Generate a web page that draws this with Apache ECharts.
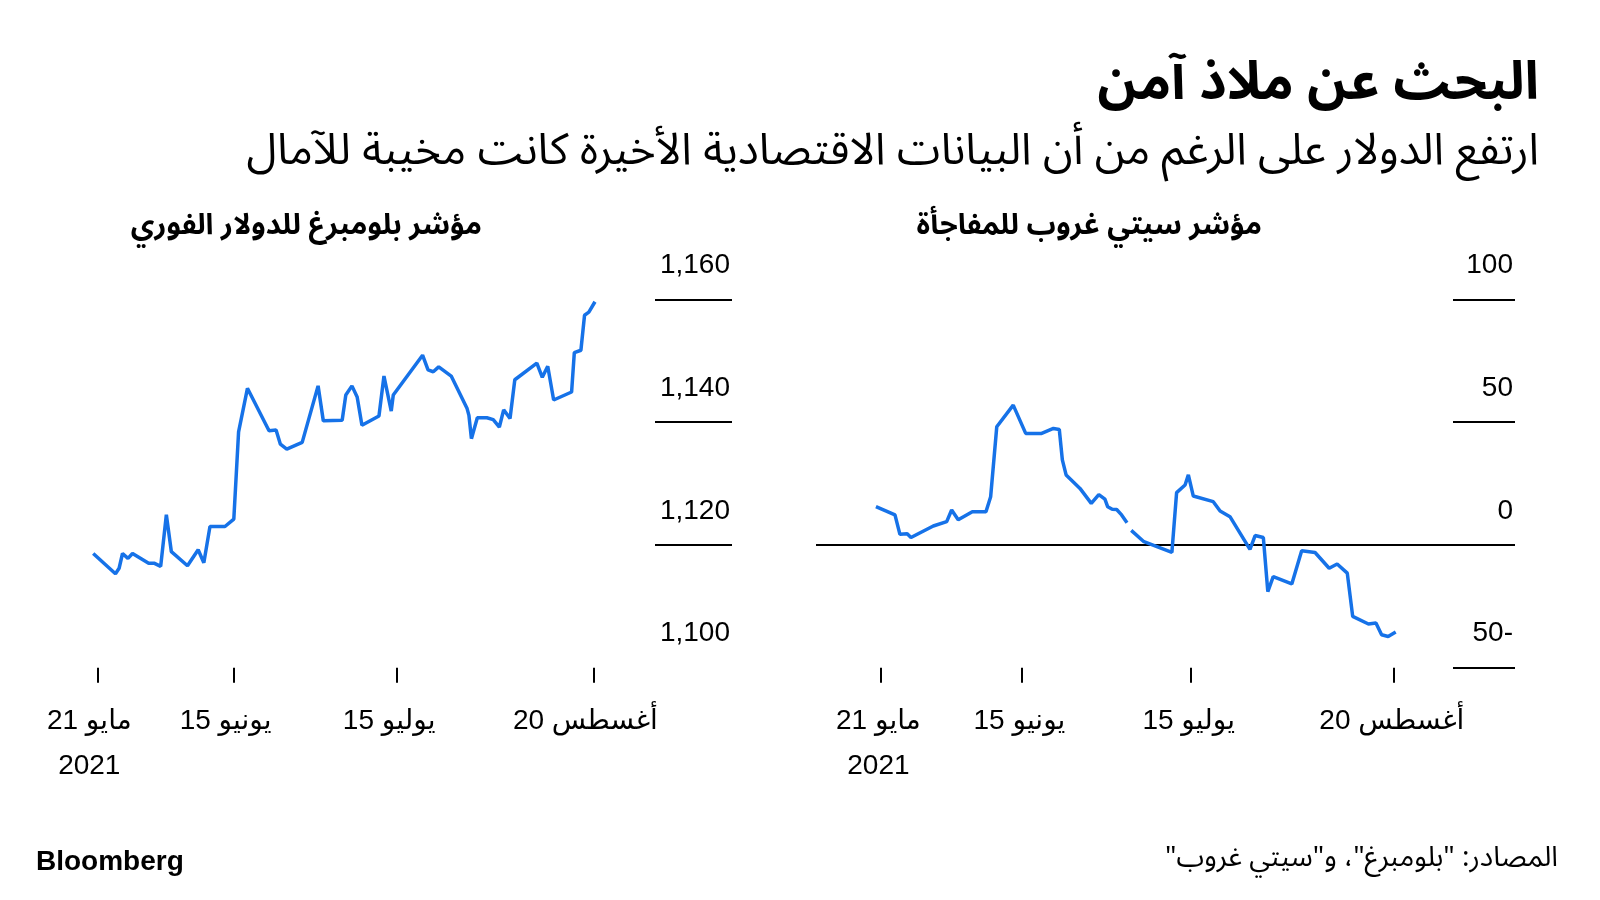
<!DOCTYPE html>
<html lang="ar">
<head>
<meta charset="utf-8">
<script src="https://cdn.jsdelivr.net/npm/echarts@6/dist/echarts.min.js"></script>
<style>
  html, body { margin: 0; padding: 0; background: #fff; }
  #chart { width: 1600px; height: 900px; direction: rtl; }
</style>
</head>
<body>
<div id="chart"></div>
<script>
// ---------- DATA ----------
const leftDates = [
  '2021-05-20 06:00','2021-05-24 08:00','2021-05-25 00:00','2021-05-25 15:00','2021-05-26 15:00',
  '2021-05-27 11:00','2021-05-30 10:00','2021-05-31 12:00','2021-06-01 15:00','2021-06-02 16:00',
  '2021-06-03 14:00','2021-06-06 13:00','2021-06-08 12:00','2021-06-09 13:00','2021-06-10 16:00',
  '2021-06-13 10:00','2021-06-15 01:00','2021-06-15 22:00','2021-06-17 13:00','2021-06-21 12:00',
  '2021-06-22 19:00','2021-06-23 14:00','2021-06-24 18:00','2021-06-27 14:00','2021-06-30 12:00',
  '2021-07-01 11:00','2021-07-04 22:00','2021-07-05 14:00','2021-07-06 17:00','2021-07-07 16:00',
  '2021-07-08 13:00','2021-07-11 16:00','2021-07-12 14:00','2021-07-13 22:00','2021-07-14 07:00',
  '2021-07-19 16:00','2021-07-20 16:00','2021-07-21 15:00','2021-07-22 15:00','2021-07-24 22:00',
  '2021-07-27 20:00','2021-07-28 04:00','2021-07-28 15:00','2021-07-29 17:00','2021-07-31 11:00',
  '2021-08-01 15:00','2021-08-02 18:00','2021-08-03 13:00','2021-08-04 17:00','2021-08-05 14:00',
  '2021-08-09 15:00','2021-08-10 15:00','2021-08-11 15:00','2021-08-12 17:00','2021-08-16 00:00',
  '2021-08-16 12:00','2021-08-17 17:00','2021-08-18 09:00','2021-08-19 04:00','2021-08-20 07:00'
];
const leftValues = [
  1118.6, 1115.3, 1116.2, 1118.6, 1117.8,
  1118.6, 1117.0, 1117.0, 1116.5, 1124.9,
  1118.9, 1116.6, 1119.2, 1117.1, 1123.0,
  1123.0, 1124.2, 1138.4, 1145.5, 1138.6,
  1138.7, 1136.4, 1135.6, 1136.7, 1145.9,
  1140.2, 1140.3, 1144.4, 1145.9, 1144.1,
  1139.5, 1141.0, 1147.5, 1141.8, 1144.4,
  1150.9, 1148.5, 1148.2, 1149.0, 1147.5,
  1142.2, 1141.1, 1137.3, 1140.7, 1140.7,
  1140.4, 1139.2, 1142.0, 1140.6, 1146.9,
  1149.6, 1147.3, 1149.1, 1143.6, 1144.9,
  1151.3, 1151.7, 1157.4, 1157.9, 1159.6
];

const rightDates = [
  '2021-05-20 05:00','2021-05-23 14:00','2021-05-24 11:00','2021-05-25 18:00','2021-05-26 10:00',
  '2021-05-30 09:00','2021-06-01 18:00','2021-06-02 15:00','2021-06-03 19:00','2021-06-06 07:00',
  '2021-06-08 17:00','2021-06-09 13:00','2021-06-10 15:00','2021-06-13 13:00','2021-06-15 18:00',
  '2021-06-18 14:00','2021-06-20 16:00','2021-06-21 17:00','2021-06-22 06:00','2021-06-22 22:00',
  '2021-06-25 09:00','2021-06-27 09:00','2021-06-28 17:00','2021-06-29 19:00','2021-06-30 07:00',
  '2021-07-01 02:00','2021-07-01 21:00','2021-07-02 18:00','2021-07-03 17:00','2021-07-03 20:00',
  '2021-07-04 11:00','2021-07-06 17:00','2021-07-11 16:00','2021-07-12 12:00','2021-07-14 00:00',
  '2021-07-14 14:00','2021-07-15 11:00','2021-07-19 00:00','2021-07-20 05:00','2021-07-21 23:00',
  '2021-07-25 12:00','2021-07-26 10:00','2021-07-27 21:00','2021-07-28 16:00','2021-07-29 15:00',
  '2021-08-01 22:00','2021-08-03 16:00','2021-08-06 01:00','2021-08-08 13:00','2021-08-09 23:00',
  '2021-08-11 18:00','2021-08-12 17:00','2021-08-15 12:00','2021-08-16 20:00','2021-08-17 20:00',
  '2021-08-19 00:00','2021-08-20 08:00'
];
const rightValues = [
  15.6, 12.2, 4.3, 4.5, 3.0,
  7.7, 9.5, 14.2, 10.2, 13.5,
  13.5, 19.6, 48.1, 56.9, 45.4,
  45.4, 47.4, 47.0, 34.6, 28.5,
  23.0, 16.9, 20.5, 18.6, 15.5,
  14.5, 14.4, 12.2, 9.0, null,
  5.9, 1.3, -3.0, 21.3, 24.4,
  28.5, 19.9, 17.6, 13.8, 11.5,
  -1.8, 3.8, 3.0, -19.0, -12.9,
  -15.9, -2.4, -3.1, -9.5, -7.8,
  -11.5, -29.1, -32.2, -31.8, -36.6,
  -37.3, -35.5
];

const tickDates = ['2021-05-21', '2021-06-15', '2021-07-15', '2021-08-20'];
const tickLabels = ['مايو 21\n2021', 'يونيو 15', 'يوليو 15', 'أغسطس 20'];
const leftYTicks = [1100, 1120, 1140, 1160];
const rightYTicks = [-50, 0, 50, 100];

const titleText = 'البحث عن ملاذ آمن';
const subtitleText = 'ارتفع الدولار على الرغم من أن البيانات الاقتصادية الأخيرة كانت مخيبة للآمال';
const leftTitle = 'مؤشر بلومبرغ للدولار الفوري';
const rightTitle = 'مؤشر سيتي غروب للمفاجأة';
const sourceText = 'المصادر: "بلومبرغ"، و"سيتي غروب"';
const brandText = 'Bloomberg';

// ---------- CHART ----------
const BLUE = '#1672e8';
const AR_FONT = "'Noto Sans Arabic', 'DejaVu Sans', sans-serif";
const NUM_FONT = "'Liberation Sans', 'DejaVu Sans', sans-serif";

const ts = s => echarts.time.parse(s).getTime();
const tickTs = tickDates.map(ts);
function dateLabel(v) {
  for (let i = 0; i < tickTs.length; i++) {
    if (Math.abs(tickTs[i] - v) < 3600000) return tickLabels[i];
  }
  return '';
}

const TOP = 299.3, H = 368.4;
const X_MIN = ts('2021-05-20'), X_MAX = ts('2021-08-21');

function dataXAxis(gi, labelPad) {
  return {
    gridIndex: gi, type: 'value', min: X_MIN, max: X_MAX,
    axisLine: { show: false, onZero: false },
    axisTick: { show: true, customValues: tickTs, length: 15, lineStyle: { color: '#000', width: 2 } },
    axisLabel: {
      customValues: tickTs, formatter: dateLabel, margin: 31, padding: labelPad,
      color: '#000', fontSize: 28, lineHeight: 45, fontFamily: NUM_FONT, hideOverlap: false
    },
    splitLine: { show: false }
  };
}
function hiddenX(gi) {
  return { gridIndex: gi, type: 'value', show: false, min: 0, max: 1 };
}
function rulerY(gi, ticks, colors, showLabels, fmt) {
  return {
    gridIndex: gi, type: 'value', position: 'right',
    min: ticks[0], max: ticks[ticks.length - 1], interval: ticks[1] - ticks[0],
    axisLine: { show: false }, axisTick: { show: false },
    axisLabel: {
      show: showLabels, inside: true, margin: 2, align: 'right', verticalAlign: 'bottom',
      padding: [0, 0, 20, 0], color: '#000', fontSize: 28, fontFamily: NUM_FONT, formatter: fmt
    },
    splitLine: { show: true, lineStyle: { color: colors, width: 2 } }
  };
}
function dataY(gi, ticks) {
  return {
    gridIndex: gi, type: 'value', show: false,
    min: ticks[0], max: ticks[ticks.length - 1], interval: ticks[1] - ticks[0],
    splitLine: { show: false }
  };
}

const chart = echarts.init(document.getElementById('chart'), null, { renderer: 'canvas' });
chart.setOption({
  animation: false,
  backgroundColor: '#fff',
  grid: [
    { left: 91.85, top: TOP, width: 507.0, height: H },   // 0 left data
    { left: 655, top: TOP, width: 77, height: H },        // 1 left ruler
    { left: 874.76, top: TOP, width: 524.7, height: H },  // 2 right data
    { left: 1453, top: TOP, width: 62, height: H },       // 3 right ruler
    { left: 816, top: TOP, width: 699, height: H }        // 4 zero line
  ],
  xAxis: [dataXAxis(0, [0, 16, 0, 0]), hiddenX(1), dataXAxis(2, [0, 4, 0, 0]), hiddenX(3), hiddenX(4)],
  yAxis: [
    dataY(0, leftYTicks),
    rulerY(1, leftYTicks, ['rgba(0,0,0,0)', '#000', '#000', '#000'], true,
      v => v.toLocaleString('en-US')),
    dataY(2, rightYTicks),
    rulerY(3, rightYTicks, ['#000', '#000', '#000', '#000'], true, v => String(v)),
    rulerY(4, rightYTicks, ['rgba(0,0,0,0)', '#000', 'rgba(0,0,0,0)', 'rgba(0,0,0,0)'], false, v => String(v))
  ],
  series: [
    {
      type: 'line', xAxisIndex: 0, yAxisIndex: 0, showSymbol: false,
      lineStyle: { color: BLUE, width: 3.5 }, itemStyle: { color: BLUE },
      data: leftDates.map((d, i) => [ts(d), leftValues[i]])
    },
    {
      type: 'line', xAxisIndex: 2, yAxisIndex: 2, showSymbol: false, connectNulls: false,
      lineStyle: { color: BLUE, width: 3.5 }, itemStyle: { color: BLUE },
      data: rightDates.map((d, i) => [ts(d), rightValues[i] === null ? '-' : rightValues[i]])
    }
  ],
  graphic: [
    { type: 'text', x: 1539, y: 91, style: { text: titleText, fill: '#000', fontSize: 53, fontWeight: 'bold', fontFamily: AR_FONT, align: 'right', verticalAlign: 'middle' } },
    { type: 'text', x: 1539, y: 157, style: { text: subtitleText, fill: '#000', fontSize: 44, fontFamily: AR_FONT, align: 'right', verticalAlign: 'middle' } },
    { type: 'text', x: 482, y: 230, style: { text: leftTitle, fill: '#000', fontSize: 29, fontWeight: 'bold', fontFamily: AR_FONT, align: 'right', verticalAlign: 'middle' } },
    { type: 'text', x: 1262, y: 230, style: { text: rightTitle, fill: '#000', fontSize: 29, fontWeight: 'bold', fontFamily: AR_FONT, align: 'right', verticalAlign: 'middle' } },
    { type: 'text', x: 36, y: 862, style: { text: brandText, fill: '#000', fontSize: 28, fontWeight: 'bold', fontFamily: NUM_FONT, align: 'left', verticalAlign: 'middle' } },
    { type: 'text', x: 1558, y: 862, style: { text: sourceText, fill: '#000', fontSize: 28, fontFamily: AR_FONT, align: 'right', verticalAlign: 'middle' } }
  ]
});
</script>
</body>
</html>
